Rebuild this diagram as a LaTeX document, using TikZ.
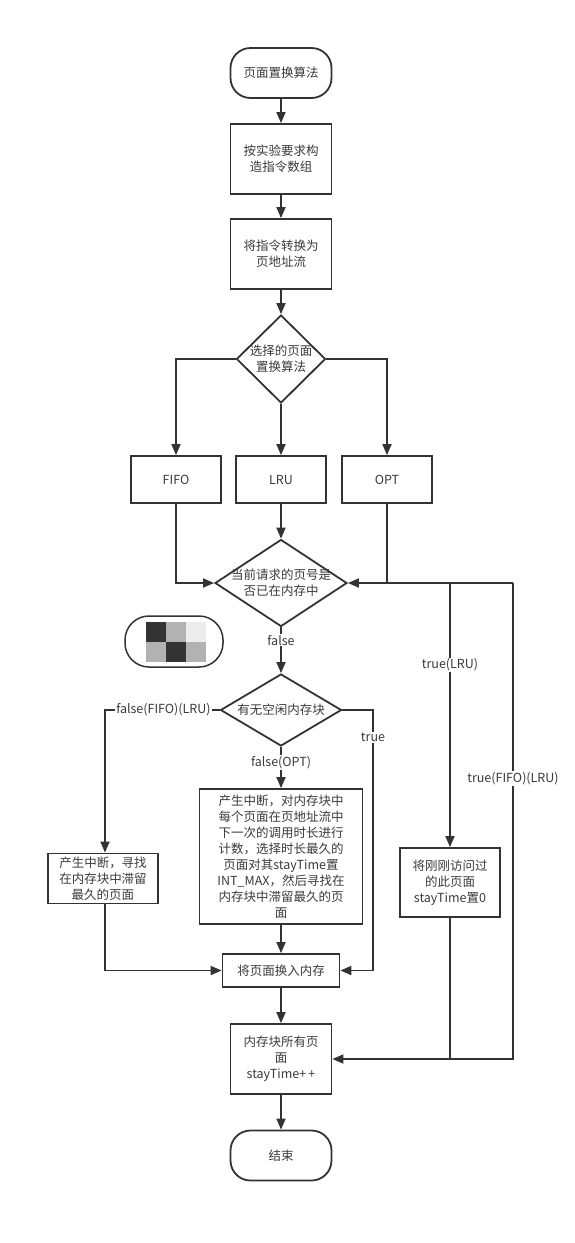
\documentclass[tikz,border=0pt]{standalone}
\usepackage{fontspec}
\setmainfont{Noto Sans CJK SC}
\usetikzlibrary{arrows.meta,shapes.geometric,calc}
\definecolor{ln}{HTML}{333333}
\definecolor{tx}{HTML}{3A3A3A}
\begin{document}
\begin{tikzpicture}[x=1pt,y=-1pt,
  every node/.style={font=\fontsize{12.5}{16}\selectfont, text=tx},
  base/.style={draw=ln, line width=1.8pt, align=center, inner sep=1pt},
  proc/.style={base, rectangle, minimum width=#1},
  term/.style={base, rounded corners=20pt, minimum width=101pt, minimum height=50pt},
  decbox/.style={draw=ln, line width=1.8pt, diamond, inner sep=0pt},
  conn/.style={draw=ln, line width=1.8pt},
  arr/.style={conn, -{Triangle[length=11pt,width=9pt]}},
  lbl/.style={fill=white, inner sep=1pt}
]
\useasboundingbox (0,0) rectangle (574,1243);

% nodes
\node[term] (start) at (281,73) {页面置换算法};
\node[proc=101pt, minimum height=70pt] (b1) at (281,159) {按实验要求构\\造指令数组};
\node[proc=101pt, minimum height=70pt] (b2) at (281,254) {将指令转换为\\页地址流};
\node[decbox, minimum width=89pt, minimum height=88pt] (d1) at (281,359) {};
\node[align=center] at (281,359) {选择的页面\\置换算法};
\node[proc=90pt, minimum height=47pt] (fifo) at (176,479.5) {FIFO};
\node[proc=90pt, minimum height=47pt] (lru) at (281,479.5) {LRU};
\node[proc=90pt, minimum height=47pt] (opt) at (387,479.5) {OPT};
\node[decbox, minimum width=132pt, minimum height=87pt] (d2) at (281,583) {};
\node[align=center] at (281,583) {当前请求的页号是\\否已在内存中};
\node[decbox, minimum width=121pt, minimum height=72pt] (d3) at (281,710) {};
\node at (281,710) {有无空闲内存块};
\node[proc=110pt, minimum height=50pt] (lb) at (103,878.5) {产生中断，寻找\\在内存块中滞留\\最久的页面};
\node[proc=163pt, minimum height=135pt] (ob) at (281,856.5) {产生中断，对内存块中\\每个页面在页地址流中\\下一次的调用时长进行\\计数，选择时长最久的\\页面对其stayTime置\\INT\_MAX，然后寻找在\\内存块中滞留最久的页\\面};
\node[proc=100pt, minimum height=69pt] (rb) at (450,882.5) {将刚刚访问过\\的此页面\\stayTime置0};
\node[proc=117pt, minimum height=33pt] (swap) at (281,970.5) {将页面换入内存};
\node[proc=101pt, minimum height=70pt] (all) at (281,1059) {内存块所有页\\面\\stayTime+\,+};
\node[term] (end) at (281,1155.5) {结束};

% blurred logo
\node[draw=ln, line width=1.5pt, rounded corners=24pt, minimum width=98pt, minimum height=51pt] (logo) at (174,641.5) {};
\fill[ln] (146,622) rectangle (166,642);
\fill[black!30] (166,622) rectangle (186,642);
\fill[black!7] (186,622) rectangle (206,642);
\fill[black!30] (146,642) rectangle (166,662);
\fill[ln] (166,642) rectangle (186,662);
\fill[black!30] (186,642) rectangle (206,662);

% connectors
\draw[arr] (start) -- (b1);
\draw[arr] (b1) -- (b2);
\draw[arr] (b2) -- (d1);
\draw[arr] (d1.west) -| (fifo.north);
\draw[arr] (d1.south) -- (lru.north);
\draw[arr] (d1.east) -| (opt.north);
\draw[arr] (fifo.south) |- (d2.west);
\draw[arr] (lru.south) -- (d2.north);
\draw[arr] (opt.south) |- (d2.east);

\coordinate (r1) at (450,583);
\coordinate (r2) at (513,583);
\draw[conn] (opt.south |- d2.east) -- (r2);
\draw[arr] (r1) -- node[lbl, pos=0.31] {true(LRU)} (rb.north);
\draw[arr] (r2) -- node[lbl, pos=0.41] {true(FIFO)(LRU)} (r2 |- all.east) -- (all.east);
\draw[conn] (rb.south) -- (rb.south |- all.east);

\draw[arr] (d2.south) -- node[lbl, pos=0.28] {false} (d3.north);
\coordinate (l1) at (105,710);
\draw[arr] (d3.west) -- node[lbl, pos=0.49] {false(FIFO)(LRU)} (l1) -- (l1 |- lb.north);
\draw[arr] (l1 |- lb.south) |- (swap.west);
\draw[arr] (d3.south) -- node[lbl, pos=0.38] {false(OPT)} (ob.north);
\coordinate (t1) at (373,710);
\draw[arr] (d3.east) -- (t1) -- node[lbl, pos=0.105] {true} (t1 |- swap.east) -- (swap.east);
\draw[arr] (ob.south) -- (swap.north);
\draw[arr] (swap.south) -- (all.north);
\draw[arr] (all.south) -- (end.north);
\end{tikzpicture}
\end{document}
